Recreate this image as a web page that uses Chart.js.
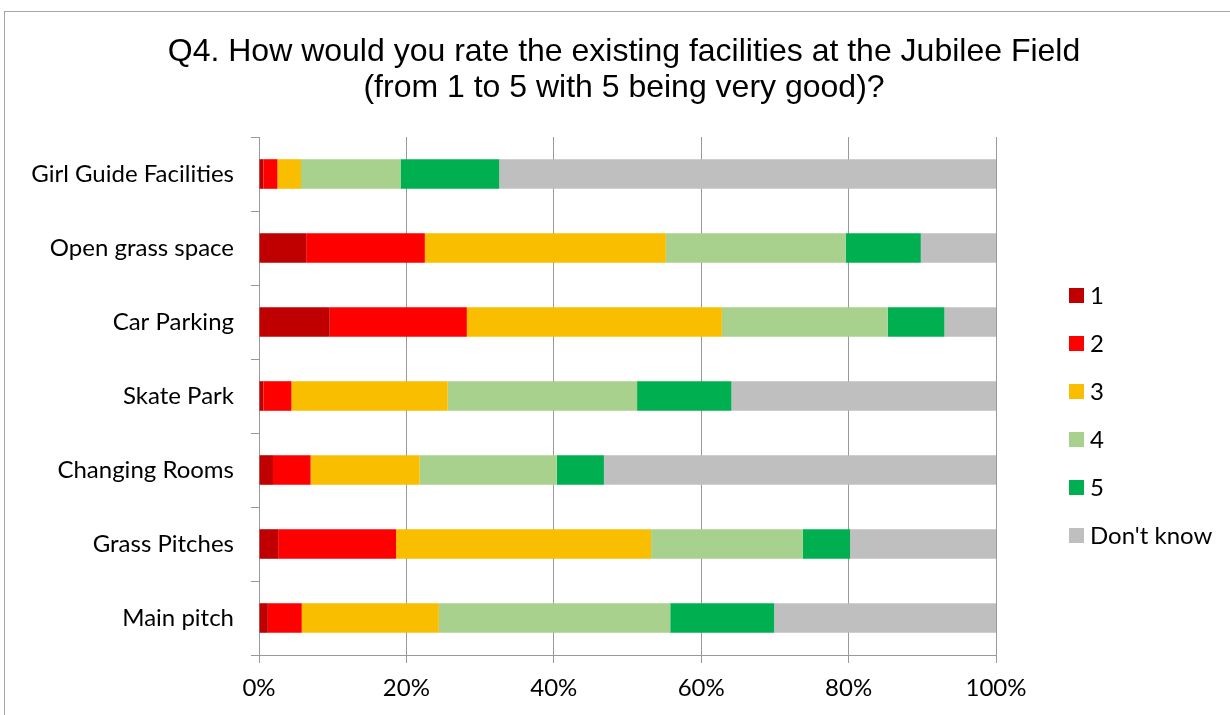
<!DOCTYPE html>
<html>
<head>
<meta charset="utf-8">
<script src="https://cdn.jsdelivr.net/npm/chart.js@4.4.1/dist/chart.umd.min.js"></script>
<style>
  html, body { margin: 0; padding: 0; background: #fff; overflow: hidden; }
  #frame { position: absolute; left: 4px; top: 11px; width: 1400px; height: 900px; border: 1px solid #a6a6a6; }
  #wrap { position: absolute; left: 0; top: 0; width: 1230px; height: 715px; }
</style>
</head>
<body>
<div id="frame"></div>
<div id="wrap"><canvas id="chart"></canvas></div>
<script>
const categories = ['Girl Guide Facilities', 'Open grass space', 'Car Parking', 'Skate Park', 'Changing Rooms', 'Grass Pitches', 'Main pitch'];
const seriesNames = ['1', '2', '3', '4', '5', "Don't know"];
const rating1 = [0.6, 6.4, 9.6, 0.6, 1.9, 2.6, 1.2];
const rating2 = [1.9, 16.1, 18.6, 3.8, 5.1, 16.0, 4.6];
const rating3 = [3.2, 32.7, 34.6, 21.2, 14.8, 34.6, 18.6];
const rating4 = [13.5, 24.4, 22.5, 25.7, 18.6, 20.6, 31.4];
const rating5 = [13.4, 10.2, 7.7, 12.8, 6.4, 6.4, 14.1];
const dontKnow = [67.4, 10.2, 7.0, 35.9, 53.2, 19.8, 30.1];
const xTicks = [0, 20, 40, 60, 80, 100];

const colors = ['#C00000', '#FF0000', '#F9BE00', '#A9D18E', '#00B050', '#BFBFBF'];
const labelFont = { family: 'Lato, "Open Sans", sans-serif', size: 24 };

// legend drawn by hand so it sits where the original puts it
const sideLegend = {
  id: 'sideLegend',
  afterDraw(chart) {
    const ctx = chart.ctx;
    ctx.save();
    ctx.font = `${labelFont.size}px ${labelFont.family}`;
    ctx.textBaseline = 'middle';
    chart.data.datasets.forEach((ds, i) => {
      const y = 295.5 + i * 48;
      ctx.fillStyle = ds.backgroundColor;
      ctx.fillRect(1069, y - 7.5, 15, 15);
      ctx.fillStyle = '#000';
      ctx.fillText(ds.label, 1090, y + 1);
    });
    ctx.restore();
  }
};

const allSeries = [rating1, rating2, rating3, rating4, rating5, dontKnow];

new Chart(document.getElementById('chart'), {
  type: 'bar',
  data: {
    labels: categories,
    datasets: allSeries.map((d, i) => ({
      label: seriesNames[i],
      data: d,
      backgroundColor: colors[i],
      borderWidth: 0,
      categoryPercentage: 1,
      barPercentage: 0.4
    }))
  },
  options: {
    indexAxis: 'y',
    responsive: true,
    maintainAspectRatio: false,
    animation: false,
    devicePixelRatio: 1,
    layout: { padding: { left: 18, right: 0, top: 0, bottom: 0 } },
    plugins: {
      legend: { display: false },
      tooltip: { enabled: false },
      title: {
        display: true,
        text: ['Q4. How would you rate the existing facilities at the Jubilee Field', '(from 1 to 5 with 5 being very good)?'],
        color: '#000',
        font: { family: '"Liberation Sans", Arial, sans-serif', size: 32, weight: 'normal', lineHeight: 36 / 32 },
        padding: { top: 34, bottom: 31 }
      }
    },
    scales: {
      x: {
        stacked: true,
        min: 0,
        max: 100,
        afterBuildTicks(scale) { scale.ticks = xTicks.map(v => ({ value: v })); },
        afterFit(scale) { scale.height = 60; },
        grid: { color: '#999', lineWidth: 1, drawTicks: true, tickLength: 8, tickColor: '#999' },
        border: { display: true, color: '#999' },
        ticks: { color: '#000', font: labelFont, padding: 11, maxRotation: 0, callback: v => v + '%' }
      },
      y: {
        stacked: true,
        afterFit(scale) { scale.width = 241; },
        grid: { drawOnChartArea: false, drawTicks: true, tickLength: 8, tickColor: '#999', offset: true },
        border: { display: true, color: '#999' },
        ticks: { color: '#000', font: labelFont, padding: 17 }
      },
      // empty right-hand axis that only reserves room for the legend
      side: {
        type: 'linear',
        position: 'right',
        grid: { display: false, drawTicks: false },
        border: { display: false },
        ticks: { display: false },
        afterFit(scale) { scale.width = 234; }
      }
    }
  },
  plugins: [sideLegend]
});
</script>
</body>
</html>
